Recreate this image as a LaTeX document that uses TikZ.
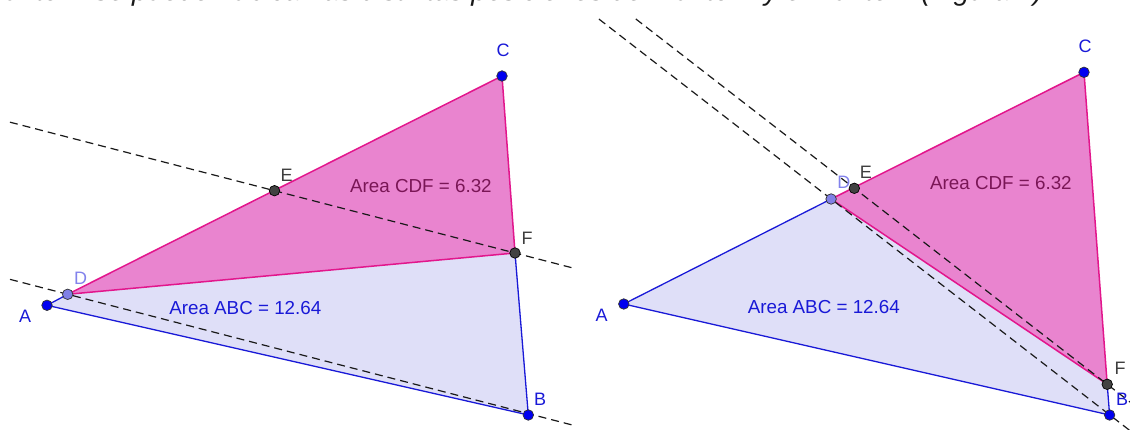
\documentclass[tikz,border=0pt]{standalone}
\usepackage{fontspec}
\setmainfont{Liberation Sans}
\usetikzlibrary{calc}
\definecolor{lavfill}{RGB}{223,223,248}
\definecolor{edgeblue}{RGB}{25,25,215}
\definecolor{pinkfill}{RGB}{233,132,207}
\definecolor{edgemag}{RGB}{226,22,140}
\definecolor{cdftext}{RGB}{122,22,86}
\definecolor{ptblue}{RGB}{0,0,240}
\definecolor{ptlav}{RGB}{128,128,230}
\definecolor{lablav}{RGB}{130,130,236}
\definecolor{ptgray}{RGB}{66,66,66}
\definecolor{labgray}{RGB}{62,62,62}
\begin{document}
\begin{tikzpicture}[x=1pt,y=-1pt,
  triside/.style={line width=1.3pt,edgeblue},
  magside/.style={line width=1.5pt,edgemag},
  dashline/.style={line width=1.2pt,black!90,dash pattern=on 8pt off 5pt},
  ptA/.style={circle,inner sep=0pt,minimum size=10.5pt,draw=black!80,line width=0.7pt,fill=ptblue},
  ptD/.style={circle,inner sep=0pt,minimum size=10.5pt,draw=black!80,line width=0.7pt,fill=ptlav},
  ptE/.style={circle,inner sep=0pt,minimum size=10.5pt,draw=black,line width=0.7pt,fill=ptgray},
  lbl/.style={inner sep=0pt,font=\fontsize{18}{20}\selectfont},
  area/.style={inner sep=0pt,font=\fontsize{18.8}{21}\selectfont}]
\useasboundingbox (0,0) rectangle (1130,430);
\clip (0,0) rectangle (1130,430);
% cut-off heading
\node[anchor=base east,inner sep=0pt,font=\fontsize{28}{30}\selectfont\itshape,text=black!90] (title) at (1043,1)
  {al mover el punto D se pueden ubicar las distintas posiciones del Punto E y el Punto F (Figura 7)};
% ---------------- left figure ----------------
\coordinate (A1) at (47,305.3);
\coordinate (B1) at (528.3,415);
\coordinate (C1) at (502,76);
\coordinate (D1) at (67.7,294.3);
\coordinate (E1) at (274.5,190.7);
\coordinate (F1) at (515,253);
\coordinate (D1d) at ($(D1)+(F1)-(E1)$);
\fill[lavfill] (A1) -- (B1) -- (C1) -- cycle;
\fill[pinkfill] (C1) -- (D1) -- (F1) -- cycle;
\draw[triside] (D1) -- (A1) -- (B1) -- (F1);
\draw[magside] (D1) -- (C1) -- (F1) -- cycle;
\draw[dashline] ($(E1)!-1.1!(F1)$) -- ($(E1)!1.24!(F1)$);
\draw[dashline] ($(D1)!-0.24!(D1d)$) -- ($(D1)!2.097!(D1d)$);
\node[area,text=cdftext] (cdf1) at (420.9,185.7) {Area CDF = 6.32};
\node[area,text=edgeblue] (abc1) at (245.3,308.3) {Area ABC = 12.64};
\node[ptA] (pA1) at (A1) {};
\node[ptA] (pB1) at (B1) {};
\node[ptA] (pC1) at (C1) {};
\node[ptD] (pD1) at (D1) {};
\node[ptE] (pE1) at (E1) {};
\node[ptE] (pF1) at (F1) {};
\node[lbl,text=edgeblue] (lA1) at (25.2,316) {A};
\node[lbl,text=edgeblue] (lB1) at (540.1,399.3) {B};
\node[lbl,text=edgeblue] (lC1) at (503.1,50.7) {C};
\node[lbl,text=lablav] (lD1) at (80.6,278.3) {D};
\node[lbl,text=labgray] (lE1) at (286.7,175) {E};
\node[lbl,text=labgray] (lF1) at (527.2,238.3) {F};
% ---------------- right figure ----------------
\coordinate (A2) at (623.8,304);
\coordinate (B2) at (1109.6,415);
\coordinate (C2) at (1084,72.3);
\coordinate (D2) at (831.1,199);
\coordinate (E2) at (854.3,188.3);
\coordinate (F2) at (1107.2,384.3);
\coordinate (D2d) at ($(D2)+(F2)-(E2)$);
\fill[lavfill] (A2) -- (B2) -- (C2) -- cycle;
\fill[pinkfill] (C2) -- (D2) -- (F2) -- cycle;
\draw[triside] (D2) -- (A2) -- (B2) -- (F2);
\draw[magside] (D2) -- (C2) -- (F2) -- cycle;
\draw[dashline] ($(E2)!-0.864!(F2)$) -- ($(E2)!1.13!(F2)$);
\draw[dashline] ($(D2)!-0.918!(D2d)$) -- ($(D2)!1.22!(D2d)$);
\node[area,text=cdftext] (cdf2) at (1000.9,183.3) {Area CDF = 6.32};
\node[area,text=edgeblue] (abc2) at (823.8,306.7) {Area ABC = 12.64};
\node[ptA] (pA2) at (A2) {};
\node[ptA] (pB2) at (B2) {};
\node[ptA] (pC2) at (C2) {};
\node[ptD] (pD2) at (D2) {};
\node[ptE] (pE2) at (E2) {};
\node[ptE] (pF2) at (F2) {};
\node[lbl,text=edgeblue] (lA2) at (601.7,315) {A};
\node[lbl,text=edgeblue] (lB2) at (1122,399.3) {B};
\node[lbl,text=edgeblue] (lC2) at (1085,46.7) {C};
\node[lbl,text=lablav] (lD2) at (843.8,182.7) {D};
\node[lbl,text=labgray] (lE2) at (865.9,172.3) {E};
\node[lbl,text=labgray] (lF2) at (1120.2,368.3) {F};
\end{tikzpicture}
\end{document}
